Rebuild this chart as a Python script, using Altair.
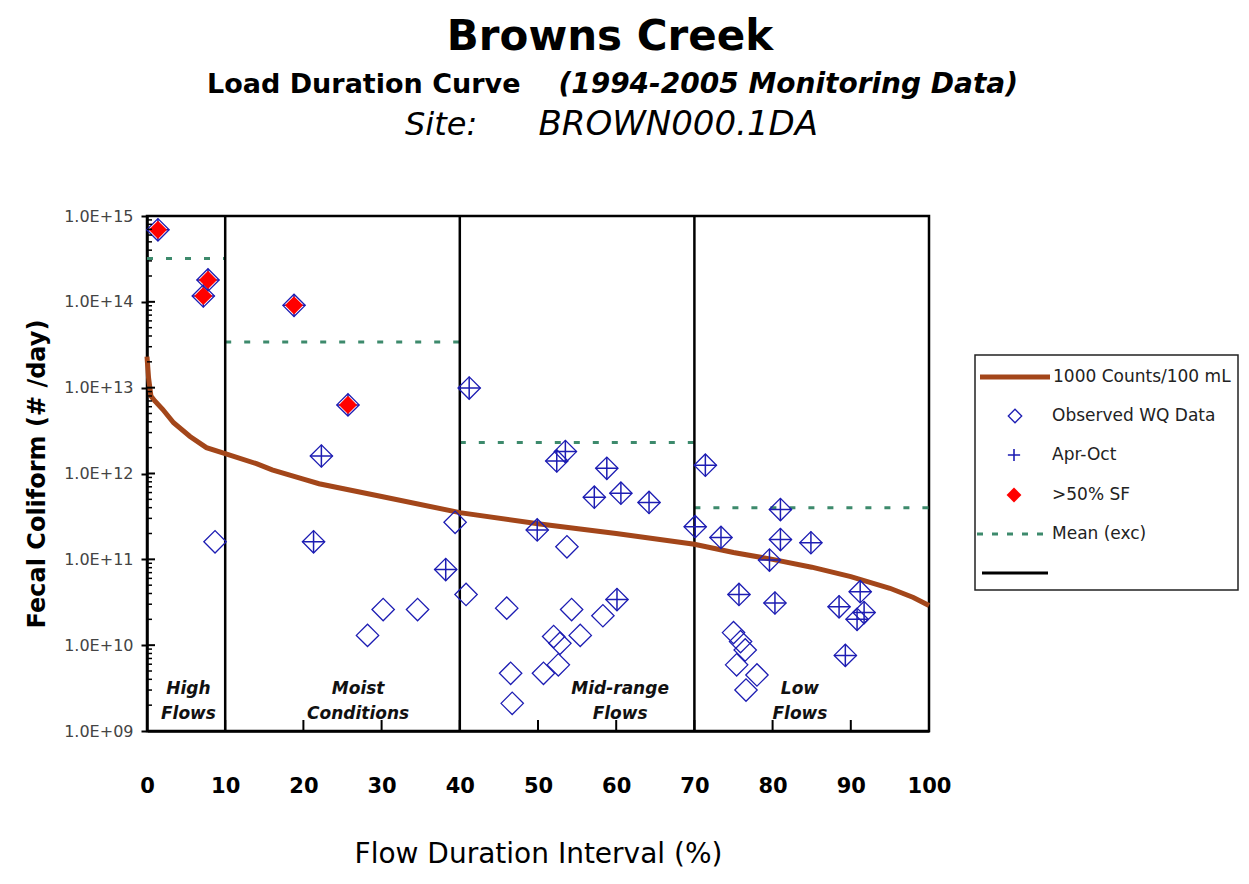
import altair as alt
import pandas as pd

# ---------------- data ----------------
flow_pct = [1.4, 7.8, 7.2, 18.8, 25.7, 22.3, 41.2, 8.7, 21.3, 39.4, 38.2, 40.8, 30.2, 34.6, 28.2,
            52.4, 53.5, 58.8, 57.2, 60.6, 64.2, 49.9, 70.1, 53.7, 46.0, 54.3, 60.1, 58.3, 55.4,
            52.0, 52.8, 52.6, 50.7, 46.5, 46.7,
            71.4, 73.4, 81.0, 81.0, 84.9, 79.6, 75.7, 80.3, 91.2, 88.5, 91.7, 90.8, 89.3,
            75.0, 75.9, 76.5, 75.4, 78.0, 76.6]
fc_load = [6.9e14, 1.8e14, 1.17e14, 9.1e13, 6.3e12, 1.6e12, 9.9e12, 1.6e11, 1.6e11, 2.7e11, 7.6e10,
           3.9e10, 2.6e10, 2.6e10, 1.3e10,
           1.4e12, 1.8e12, 1.15e12, 5.3e11, 5.9e11, 4.6e11, 2.2e11, 2.4e11, 1.4e11, 2.7e10, 2.6e10,
           3.4e10, 2.2e10, 1.3e10, 1.26e10, 1.05e10, 5.9e9, 4.7e9, 4.7e9, 2.1e9,
           1.25e12, 1.8e11, 3.8e11, 1.7e11, 1.56e11, 9.8e10, 3.9e10, 3.1e10, 4.2e10, 2.8e10, 2.4e10,
           2.0e10, 7.6e9,
           1.4e10, 1.1e10, 8.8e9, 5.9e9, 4.5e9, 3.0e9]
apr_oct = [1, 1, 1, 1, 1, 1, 1, 0, 1, 0, 1, 0, 0, 0, 0,
           1, 1, 1, 1, 1, 1, 1, 1, 0, 0, 0, 1, 0, 0, 0, 0, 0, 0, 0, 0,
           1, 1, 1, 1, 1, 1, 1, 1, 1, 1, 1, 1, 1,
           0, 0, 0, 0, 0, 0]
sf_50 = [1, 1, 1, 1, 1] + [0] * 49

curve_pct = [0, 0.2, 0.5, 1, 2, 3.4, 5.5, 7.6, 10, 14, 16, 20, 22, 30, 40, 50, 60, 70, 75, 80,
             85, 90, 95, 98, 100]
curve_load = [2.3e13, 1.3e13, 8.0e12, 7.0e12, 5.6e12, 3.9e12, 2.7e12, 2.0e12, 1.7e12, 1.3e12,
              1.1e12, 8.6e11, 7.6e11, 5.4e11, 3.5e11, 2.6e11, 2.0e11, 1.5e11, 1.2e11, 1.0e11,
              8.1e10, 6.3e10, 4.6e10, 3.6e10, 2.9e10]

zone_start = [0, 10, 40, 70]
zone_end = [10, 40, 70, 100]
zone_mean = [3.2e14, 3.4e13, 2.3e12, 4.0e11]
zone_bounds = [10, 40, 70]

zone_names = ["High\nFlows", "Moist\nConditions", "Mid-range\nFlows", "Low\nFlows"]
zone_name_pct = [5.3, 27, 60.5, 83.5]
zone_name_load = [3.1e9, 3.1e9, 3.1e9, 3.1e9]

x_ticks = [0, 10, 20, 30, 40, 50, 60, 70, 80, 90, 100]
y_ticks = [1e9, 1e10, 1e11, 1e12, 1e13, 1e14, 1e15]
y_minor = [m * 10.0 ** e for e in range(9, 15) for m in range(2, 10)]

legend_labels = ["1000 Counts/100 mL", "Observed WQ Data", "Apr-Oct", ">50% SF", "Mean (exc)"]

# ---------------- tables ----------------
obs = pd.DataFrame({"pct": flow_pct, "load": fc_load, "aproct": apr_oct, "sf": sf_50})
curve = pd.DataFrame({"pct": curve_pct, "load": curve_load})
means = pd.DataFrame({"pct": zone_start, "pct2": zone_end, "load": zone_mean})
bounds = pd.DataFrame({"pct": zone_bounds})
names = pd.DataFrame({"pct": zone_name_pct, "load": zone_name_load, "name": zone_names})
xt = pd.DataFrame({"pct": x_ticks})
ym = pd.DataFrame({"load": y_minor})
ymaj = pd.DataFrame({"load": y_ticks})
one = pd.DataFrame({"k": [0]})

W, H = 782, 515
FONT = "DejaVu Sans"
BLUE = "#1d1db3"
BROWN = "#a3461a"
GREEN = "#3d8a6c"

xscale = alt.Scale(domain=[0, 100], nice=False, zero=False)
yscale = alt.Scale(type="log", domain=[1e9, 1e15], nice=False)

xaxis = alt.Axis(values=x_ticks, ticks=False, grid=False, labelFlush=False, labelPadding=44,
                 labelFont=FONT, labelFontSize=21, labelFontWeight="bold", labelColor="black",
                 title="Flow Duration Interval (%)", titleFont=FONT, titleFontSize=28,
                 titleFontWeight="normal", titleColor="black", titlePadding=44,
                 domainColor="black", domainWidth=2.5)
yaxis = alt.Axis(values=y_ticks, grid=False, labelFlush=False, labelOverlap=False,
                 labelExpr="'1.0E+' + format(round(log(datum.value)/LN10), '02d')",
                 tickSize=6, tickColor="black", tickWidth=2, labelPadding=8,
                 labelFont=FONT, labelFontSize=16, labelColor="#444",
                 title="Fecal Coliform (# /day)", titleFont=FONT, titleFontSize=24,
                 titleFontWeight="bold", titleColor="black", titlePadding=14,
                 domainColor="black", domainWidth=2.5)


def X(field="pct"):
    return alt.X(f"{field}:Q", scale=xscale, axis=xaxis)


def Y(field="load"):
    return alt.Y(f"{field}:Q", scale=yscale, axis=yaxis)


mean_layer = alt.Chart(means).mark_rule(color=GREEN, strokeWidth=3, strokeDash=[6, 13]).encode(
    x=X(), x2="pct2:Q", y=Y())
bound_layer = alt.Chart(bounds).mark_rule(color="black", strokeWidth=2.5).encode(
    x=X(), y=alt.value(0), y2=alt.value(H))
curve_layer = alt.Chart(curve).mark_line(color=BROWN, strokeWidth=5).encode(x=X(), y=Y())
diamond_layer = alt.Chart(obs).mark_point(shape="diamond", size=500, filled=False, color=BLUE,
                                          strokeWidth=1.3, opacity=1).encode(x=X(), y=Y())
plus_layer = alt.Chart(obs).transform_filter("datum.aproct == 1").mark_point(
    shape="M-1,0L1,0M0,-1L0,1", size=500, filled=False, color=BLUE, strokeWidth=1.5,
    opacity=1).encode(x=X(), y=Y())
red_layer = alt.Chart(obs).transform_filter("datum.sf == 1").mark_point(
    shape="diamond", size=330, filled=True, color="#ff0000", opacity=1).encode(x=X(), y=Y())
name_layer = alt.Chart(names).mark_text(font=FONT, fontSize=17, fontWeight="bold",
                                        fontStyle="italic", lineBreak="\n", lineHeight=25,
                                        baseline="middle", color="#111").encode(
    x=X(), y=Y(), text="name:N")
xtick_layer = alt.Chart(xt).mark_rule(color="black", strokeWidth=2).encode(
    x=X(), y=alt.value(H - 11), y2=alt.value(H))
yminor_layer = alt.Chart(ym).mark_rule(color="black", strokeWidth=1.5).encode(
    y=Y(), x=alt.value(0), x2=alt.value(5))
ymajor_layer = alt.Chart(ymaj).mark_rule(color="black", strokeWidth=2).encode(
    y=Y(), x=alt.value(0), x2=alt.value(8))


def txt(s, x, y, size, weight="normal", style="normal", align="center", color="black"):
    return alt.Chart(one).mark_text(text=s, font=FONT, fontSize=size, fontWeight=weight,
                                    fontStyle=style, align=align, baseline="alphabetic",
                                    color=color).encode(x=alt.value(x), y=alt.value(y))


titles = [
    txt("Browns Creek", 463, -166, 42, weight="bold"),
    txt("Load Duration Curve", 60, -123, 27, weight="bold", align="left"),
    txt("(1994-2005 Monitoring Data)", 871, -123, 28, weight="bold", style="italic", align="right"),
    txt("Site:", 258, -81, 32, style="italic", align="left"),
    txt("BROWN000.1DA", 671, -81, 34, style="italic", align="right"),
]

# legend (annotation box to the right of the plot)
LX0, LX1, LY0, LY1 = 828, 1091, 139, 374
rows = [161, 200, 239, 279, 318, 357]
legend = [
    alt.Chart(one).mark_rect(fill="white", stroke="#222", strokeWidth=1.5).encode(
        x=alt.value(LX0), x2=alt.value(LX1), y=alt.value(LY0), y2=alt.value(LY1)),
    alt.Chart(one).mark_rule(color=BROWN, strokeWidth=5).encode(
        x=alt.value(833), x2=alt.value(903), y=alt.value(rows[0])),
    alt.Chart(one).mark_point(shape="diamond", size=180, filled=False, color=BLUE,
                              strokeWidth=1.3, opacity=1).encode(
        x=alt.value(868), y=alt.value(rows[1])),
    alt.Chart(one).mark_point(shape="M-1,0L1,0M0,-1L0,1", size=150, filled=False, color=BLUE,
                              strokeWidth=1.6, opacity=1).encode(
        x=alt.value(867), y=alt.value(rows[2])),
    alt.Chart(one).mark_point(shape="diamond", size=220, filled=True, color="#ff0000",
                              opacity=1).encode(x=alt.value(867), y=alt.value(rows[3])),
    alt.Chart(one).mark_rule(color=GREEN, strokeWidth=3, strokeDash=[6, 9]).encode(
        x=alt.value(830), x2=alt.value(900), y=alt.value(rows[4])),
    alt.Chart(one).mark_rule(color="black", strokeWidth=3).encode(
        x=alt.value(835), x2=alt.value(901), y=alt.value(rows[5])),
]
for i, lab in enumerate(legend_labels):
    lx = 906 if i == 0 else 905
    legend.append(alt.Chart(one).mark_text(text=lab, font=FONT, fontSize=17, align="left",
                                           baseline="middle", color="#222").encode(
        x=alt.value(lx), y=alt.value(rows[i])))

chart = alt.layer(
    mean_layer, bound_layer, curve_layer, diamond_layer, plus_layer, red_layer, name_layer,
    xtick_layer, yminor_layer, ymajor_layer, *titles, *legend
).properties(
    width=W, height=H,
    autosize=alt.AutoSizeParams(type="none"),
    padding={"left": 139, "top": 208, "right": 310, "bottom": 140},
    background="white",
).configure_view(stroke="black", strokeWidth=2.5)

chart.save("out.html", embed_options={"renderer": "svg", "actions": False})
